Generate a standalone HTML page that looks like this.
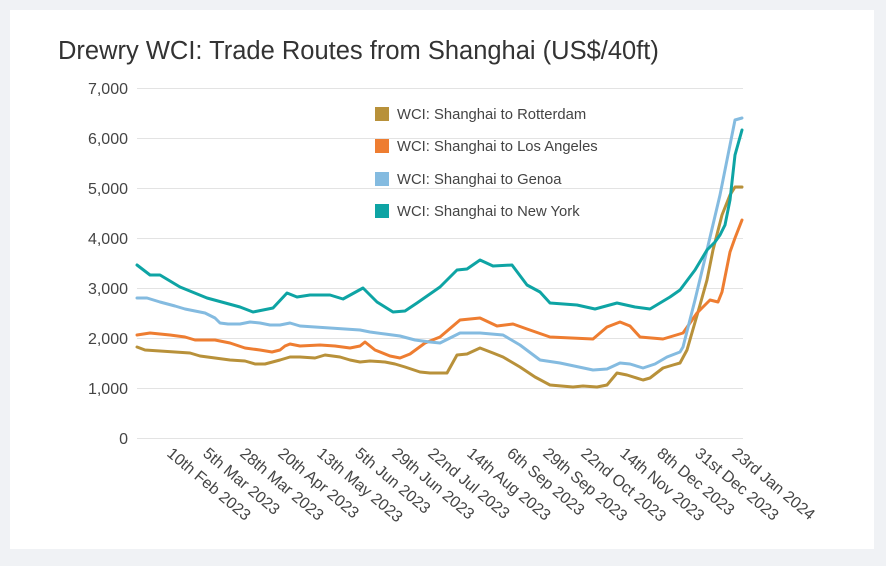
<!DOCTYPE html>
<html><head><meta charset="utf-8"><style>
html,body{margin:0;padding:0;background:#f0f2f5;}
body{width:886px;height:566px;position:relative;overflow:hidden;font-family:"Liberation Sans",sans-serif;}
.card{position:absolute;left:10px;top:10px;width:864px;height:539px;background:#fff;}
</style></head><body>
<div class="card"></div>
<svg width="886" height="566" style="position:absolute;left:0;top:0" font-family="Liberation Sans, sans-serif">
<text x="58" y="59" font-size="25.5" fill="#333">Drewry WCI: Trade Routes from Shanghai (US$/40ft)</text>
<g stroke="#e3e3e3" stroke-width="1">
<line x1="137" x2="743" y1="88.5" y2="88.5"/><line x1="137" x2="743" y1="138.5" y2="138.5"/>
<line x1="137" x2="743" y1="188.5" y2="188.5"/><line x1="137" x2="743" y1="238.5" y2="238.5"/>
<line x1="137" x2="743" y1="288.5" y2="288.5"/><line x1="137" x2="743" y1="338.5" y2="338.5"/>
<line x1="137" x2="743" y1="388.5" y2="388.5"/><line x1="137" x2="743" y1="438.5" y2="438.5"/>
</g>
<g font-size="16" fill="#444" text-anchor="end">
<text x="128" y="94">7,000</text><text x="128" y="144">6,000</text><text x="128" y="194">5,000</text>
<text x="128" y="244">4,000</text><text x="128" y="294">3,000</text><text x="128" y="344">2,000</text>
<text x="128" y="394">1,000</text><text x="128" y="444">0</text>
</g>
<g fill="none" stroke-width="3" stroke-linejoin="round" stroke-linecap="round">
<polyline stroke="#b8913a" points="137,347 145,350 160,351 175,352 190,353 200,356 215,358 230,360 245,361 255,364 265,364 280,360 290,357 300,357 315,358 325,355 340,357 350,360 360,362 370,361 385,362 395,364 405,367 420,372 430,373 440,373 447,373 457,355 467,354 480,348 493,353 503,357 520,367 535,377 550,385 573,387 583,386 597,387 607,385 617,373 627,375 643,380 650,378 663,368 673,365 680,363 687,350 700,305 707,280 713,250 722,215 730,195 735,187 742,187"/>
<polyline stroke="#ee7d31" points="137,335 150,333 170,335 185,337 195,340 215,340 230,343 245,348 260,350 272,352 280,350 285,346 290,344 300,346 320,345 335,346 350,348 360,346 365,342 375,350 390,356 400,358 410,354 425,343 440,337 460,320 480,318 497,326 513,324 527,329 550,337 593,339 607,327 620,322 630,326 640,337 663,339 683,333 697,313 710,300 718,302 722,292 730,252 735,238 742,220"/>
<polyline stroke="#84bbe0" points="137,298 147,298 160,302 175,306 185,309 195,311 205,313 215,318 220,323 228,324 240,324 250,322 260,323 270,325 280,325 290,323 300,326 315,327 330,328 345,329 360,330 370,332 385,334 400,336 415,340 430,342 440,343 460,333 480,333 503,335 520,345 540,360 560,363 593,370 607,369 620,363 630,364 643,368 655,364 667,357 680,352 683,347 695,300 707,250 720,195 735,120 742,118"/>
<polyline stroke="#0ea4a4" points="137,265 150,275 160,275 180,287 207,298 240,307 253,312 273,308 287,293 297,297 310,295 330,295 343,299 363,288 377,302 393,312 405,311 417,303 440,287 457,270 467,269 480,260 493,266 512,265 527,285 540,292 550,303 577,305 595,309 617,303 635,307 650,309 670,297 680,290 695,270 707,250 715,242 720,235 725,225 730,200 735,155 742,130"/>
</g>
<rect x="375" y="107" width="14" height="14" fill="#b8913a"/>
<rect x="375" y="139" width="14" height="14" fill="#ee7d31"/>
<rect x="375" y="172" width="14" height="14" fill="#84bbe0"/>
<rect x="375" y="204" width="14" height="14" fill="#0ea4a4"/>
<g font-size="14.8" fill="#444">
<text x="397" y="119">WCI: Shanghai to Rotterdam</text>
<text x="397" y="151">WCI: Shanghai to Los Angeles</text>
<text x="397" y="184">WCI: Shanghai to Genoa</text>
<text x="397" y="216">WCI: Shanghai to New York</text>
</g>
<g font-size="16" fill="#444">
<text transform="translate(166,455) rotate(40)">10th Feb 2023</text>
<text transform="translate(202,455) rotate(40)">5th Mar 2023</text>
<text transform="translate(239,455) rotate(40)">28th Mar 2023</text>
<text transform="translate(277,455) rotate(40)">20th Apr 2023</text>
<text transform="translate(316,455) rotate(40)">13th May 2023</text>
<text transform="translate(354,455) rotate(40)">5th Jun 2023</text>
<text transform="translate(391,455) rotate(40)">29th Jun 2023</text>
<text transform="translate(427,455) rotate(40)">22nd Jul 2023</text>
<text transform="translate(466,455) rotate(40)">14th Aug 2023</text>
<text transform="translate(506,455) rotate(40)">6th Sep 2023</text>
<text transform="translate(542,455) rotate(40)">29th Sep 2023</text>
<text transform="translate(580,455) rotate(40)">22nd Oct 2023</text>
<text transform="translate(619,455) rotate(40)">14th Nov 2023</text>
<text transform="translate(656,455) rotate(40)">8th Dec 2023</text>
<text transform="translate(694,455) rotate(40)">31st Dec 2023</text>
<text transform="translate(731,455) rotate(40)">23rd Jan 2024</text>
</g>
</svg>
</body></html>
